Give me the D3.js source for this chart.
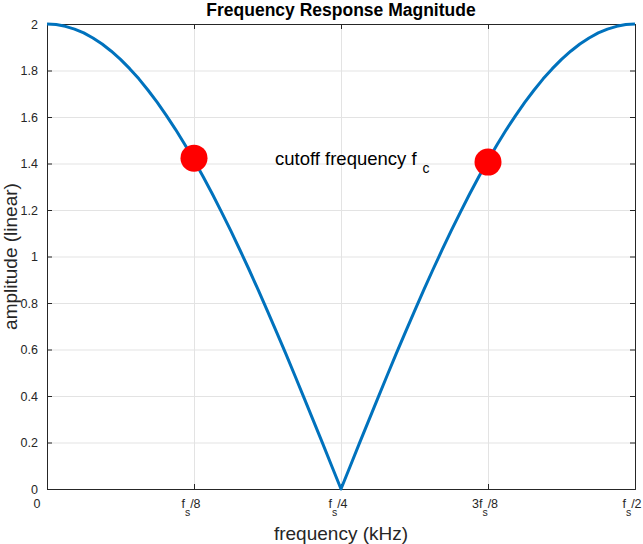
<!DOCTYPE html>
<html><head><meta charset="utf-8">
<script src="https://cdn.jsdelivr.net/npm/d3@7"></script>
<style>body{margin:0;background:#fff}svg{display:block;font-family:"Liberation Sans",Arial,sans-serif}</style>
</head><body><svg id="c" width="643" height="544"></svg>
<script>
// frequency as fraction of fs
const freqs = [0,0.0078125,0.015625,0.0234375,0.03125,0.0390625,0.046875,0.0546875,0.0625,0.0703125,0.078125,0.0859375,
  0.09375,0.1015625,0.109375,0.1171875,0.125,0.1328125,0.140625,0.1484375,0.15625,0.1640625,0.171875,0.1796875,
  0.1875,0.1953125,0.203125,0.2109375,0.21875,0.2265625,0.234375,0.2421875,0.25,0.2578125,0.265625,0.2734375,
  0.28125,0.2890625,0.296875,0.3046875,0.3125,0.3203125,0.328125,0.3359375,0.34375,0.3515625,0.359375,0.3671875,
  0.375,0.3828125,0.390625,0.3984375,0.40625,0.4140625,0.421875,0.4296875,0.4375,0.4453125,0.453125,0.4609375,
  0.46875,0.4765625,0.484375,0.4921875,0.5];
const amplitude = [2.000,1.998,1.990,1.978,1.962,1.940,1.914,1.883,1.848,1.808,1.764,1.715,1.663,1.606,1.546,1.482,
  1.414,1.343,1.269,1.191,1.111,1.028,0.943,0.855,0.765,0.674,0.581,0.486,0.390,0.293,0.196,0.098,0.000,
  0.098,0.196,0.293,0.390,0.486,0.581,0.674,0.765,0.855,0.943,1.028,1.111,1.191,1.269,1.343,1.414,
  1.482,1.546,1.606,1.663,1.715,1.764,1.808,1.848,1.883,1.914,1.940,1.962,1.978,1.990,1.998,2.000];
const cutoffFreqs = [0.125, 0.375];
const cutoffAmps = [1.423, 1.406];
const xTickVals = [0, 0.125, 0.25, 0.375, 0.5];
const xTickLabels = [["0"], ["f","s","/8"], ["f","s","/4"], ["3f","s","/8"], ["f","s","/2"]];
const yTickVals = [0,0.2,0.4,0.6,0.8,1,1.2,1.4,1.6,1.8,2];

const svg = d3.select("#c");
const L=47, R=635, T=24, B=489;
const x = d3.scaleLinear().domain([0,0.5]).range([L,R]);
const y = d3.scaleLinear().domain([0,2]).range([B,T]);
const axisCol = "#262626";

// grid
svg.append("g").selectAll("line").data(xTickVals.slice(1,-1)).join("line")
  .attr("x1",d=>x(d)+0.5).attr("x2",d=>x(d)+0.5).attr("y1",T).attr("y2",B)
  .attr("stroke","#e3e3e3").attr("stroke-width",1);
svg.append("g").selectAll("line").data(yTickVals.slice(1,-1)).join("line")
  .attr("y1",d=>y(d)+0.5).attr("y2",d=>y(d)+0.5).attr("x1",L).attr("x2",R)
  .attr("stroke","#e3e3e3").attr("stroke-width",1);

// axes
const yAxis = svg.append("g").attr("transform",`translate(${L},0)`)
  .call(d3.axisLeft(y).tickValues(yTickVals).tickSize(-5).tickPadding(9).tickFormat(d3.format("~g")));
const yAxisR = svg.append("g").attr("transform",`translate(${R},0)`)
  .call(d3.axisRight(y).tickValues(yTickVals).tickSize(-5).tickFormat(""));
const xAxis = svg.append("g").attr("transform",`translate(0,${B})`)
  .call(d3.axisBottom(x).tickValues(xTickVals).tickSize(-5).tickFormat(""));
const xAxisT = svg.append("g").attr("transform",`translate(0,${T})`)
  .call(d3.axisTop(x).tickValues(xTickVals).tickSize(-5).tickFormat(""));
[yAxis,yAxisR,xAxis,xAxisT].forEach(g=>{
  g.selectAll("path.domain").attr("stroke",axisCol).attr("stroke-width",1);
  g.selectAll(".tick line").attr("stroke",axisCol);
  g.selectAll("text").attr("fill",axisCol).style("font-size","12.5px").style("font-family","Liberation Sans, Arial, sans-serif");
});
yAxis.selectAll(".tick text").attr("dy","0.35em");

// x tick labels with subscripts
const xl = svg.append("g").selectAll("text").data(xTickVals).join("text")
  .attr("x",(d,i)=> i===0 ? x(d)-10 : x(d)-3).attr("y",B+19).attr("text-anchor","middle")
  .attr("fill",axisCol).style("font-size","12.5px");
xl.each(function(d,i){
  const parts = xTickLabels[i];
  const t = d3.select(this);
  t.append("tspan").text(parts[0]);
  if(parts.length>1){
    t.append("tspan").attr("dy",8).style("font-size","10.5px").text(parts[1]);
    t.append("tspan").attr("dy",-8).text(parts[2]);
  }
});

// curve
const line = d3.line().x((d,i)=>x(freqs[i])).y(d=>y(d));
svg.append("path").datum(amplitude).attr("d",line)
  .attr("fill","none").attr("stroke","#0072BD").attr("stroke-width",3).attr("stroke-linejoin","round");

// markers
svg.append("g").selectAll("circle").data(cutoffFreqs).join("circle")
  .attr("cx",d=>x(d)).attr("cy",(d,i)=>y(cutoffAmps[i])).attr("r",13.5).attr("fill","#ff0000");

// annotation
const ann = svg.append("text").attr("x",275).attr("y",165).attr("fill","#000").style("font-size","18.5px");
ann.append("tspan").text("cutoff frequency f");
ann.append("tspan").attr("dx",6).attr("dy",8).style("font-size","14px").text("c");

// title & labels
svg.append("text").attr("x",(L+R)/2).attr("y",16).attr("text-anchor","middle")
  .style("font-size","17.5px").style("font-weight","bold").attr("fill","#000").text("Frequency Response Magnitude");
svg.append("text").attr("x",(L+R)/2).attr("y",540).attr("text-anchor","middle")
  .style("font-size","19px").attr("fill",axisCol).text("frequency (kHz)");
svg.append("text").attr("transform",`translate(17,${(T+B)/2}) rotate(-90)`).attr("text-anchor","middle")
  .style("font-size","19px").attr("fill",axisCol).text("amplitude (linear)");
</script></body></html>
